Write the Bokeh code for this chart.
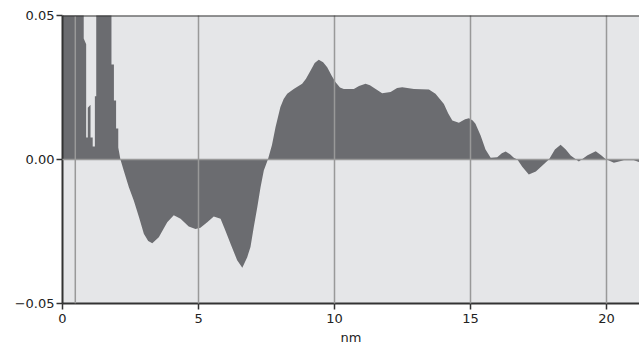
from bokeh.plotting import figure
from bokeh.models import Range1d, FixedTicker, Span, CustomJSTickFormatter
from bokeh.embed import file_html
from bokeh.resources import INLINE

# distance (nm) and signal values
x_nm = [0.00, 0.78, 0.78, 0.87, 0.87, 0.93, 0.93, 1.03, 1.03, 1.11, 1.11, 1.19, 1.19, 1.24, 1.24,
        1.80, 1.80, 1.89, 1.89, 1.97, 1.97, 2.05, 2.05, 2.13,
        2.25, 2.44, 2.62, 2.81, 2.99, 3.15, 3.30, 3.54, 3.85, 4.09, 4.34, 4.64, 4.89, 5.07,
        5.32, 5.56, 5.81, 5.99, 6.18, 6.42, 6.61, 6.79, 6.91, 7.03, 7.16, 7.28, 7.40, 7.55,
        7.70, 7.83, 8.01, 8.13, 8.26, 8.50, 8.81, 8.95, 9.12, 9.27, 9.42, 9.58, 9.73, 9.90,
        10.04, 10.20, 10.34, 10.71, 10.90, 11.14, 11.30, 11.51, 11.75, 12.06, 12.30, 12.49,
        12.92, 13.47, 13.71, 13.87, 14.02, 14.18, 14.33, 14.57, 14.80, 14.94, 15.08, 15.18,
        15.37, 15.55, 15.74, 15.98, 16.15, 16.29, 16.45, 16.59, 16.72, 16.90, 17.14, 17.40,
        17.64, 17.88, 18.10, 18.31, 18.50, 18.68, 18.98, 19.30, 19.60, 19.80, 19.96, 20.27,
        20.64, 21.00, 21.25]
signal = [0.09, 0.09, 0.042, 0.040, 0.0076, 0.0076, 0.018, 0.019, 0.0076, 0.0076, 0.0045, 0.0045, 0.022, 0.022, 0.09,
          0.09, 0.033, 0.033, 0.0205, 0.0205, 0.0108, 0.0108, 0.0042, 0.0,
          -0.0038, -0.0096, -0.0142, -0.0200, -0.0258, -0.0283, -0.0291, -0.0270, -0.0218, -0.0194, -0.0206, -0.0233, -0.0241, -0.0237,
          -0.0218, -0.0198, -0.0206, -0.0247, -0.0293, -0.0350, -0.0376, -0.0339, -0.0304, -0.0235, -0.0166, -0.0096, -0.0038, 0.0,
          0.0050, 0.0112, 0.0182, 0.0210, 0.0228, 0.0245, 0.0263, 0.0280, 0.0309, 0.0335, 0.0346, 0.0338, 0.0320, 0.0290,
          0.0268, 0.0250, 0.0245, 0.0245, 0.0255, 0.0263, 0.0258, 0.0245, 0.0230, 0.0234, 0.0248, 0.0251,
          0.0245, 0.0243, 0.0228, 0.0210, 0.0193, 0.0160, 0.0135, 0.0128, 0.0140, 0.0143, 0.0135, 0.0124,
          0.0083, 0.0035, 0.0006, 0.0008, 0.0022, 0.0028, 0.0018, 0.0006, 0.0, -0.0025, -0.0052, -0.0042,
          -0.0021, 0.0, 0.0035, 0.0051, 0.0035, 0.0014, -0.0007, 0.0015, 0.0029, 0.0015, 0.0002, -0.0011,
          -0.0003, -0.0003, -0.0010]

x_ticks = [0, 5, 10, 15, 20]
y_ticks = [-0.05, 0.0, 0.05]
marker_nm = 0.47

p = figure(width=639, height=350, output_backend="svg", toolbar_location=None,
           x_range=Range1d(0, 21.21), y_range=Range1d(-0.05, 0.05),
           min_border_left=62, min_border_top=15, min_border_right=0, min_border_bottom=47)
p.background_fill_color = "#e5e6e8"
p.border_fill_color = "white"
p.outline_line_color = None

p.varea(x=x_nm, y1=0, y2=signal, fill_color="#6b6c70")

grid_color = "#999999"
p.xgrid.ticker = FixedTicker(ticks=x_ticks)
p.ygrid.ticker = FixedTicker(ticks=y_ticks)
for g in (p.xgrid, p.ygrid):
    g.grid_line_color = grid_color
    g.grid_line_width = 1.5
    g.level = "overlay"

p.add_layout(Span(location=marker_nm, dimension="height", line_color=grid_color, line_width=1.5, level="overlay"))
p.add_layout(Span(location=0.05, dimension="width", line_color="#333333", line_width=2, level="overlay"))

p.xaxis.ticker = FixedTicker(ticks=x_ticks)
p.yaxis.ticker = FixedTicker(ticks=y_ticks)
p.yaxis.formatter = CustomJSTickFormatter(code="return (tick < 0 ? '\u22120.05' : tick.toFixed(2));")
p.xaxis.axis_label = "nm"
for ax in (p.xaxis, p.yaxis):
    ax.axis_line_color = "#333333"
    ax.axis_line_width = 2
    ax.major_tick_line_color = "#333333"
    ax.major_tick_line_width = 1.5
    ax.major_tick_out = 6
    ax.major_tick_in = 0
    ax.minor_tick_line_color = None
    ax.major_label_text_font = "DejaVu Sans"
    ax.major_label_text_font_size = "13px"
    ax.major_label_text_color = "#222222"
p.xaxis.major_label_standoff = 4
p.yaxis.major_label_standoff = 2
p.xaxis.axis_label_text_font = "DejaVu Sans"
p.xaxis.axis_label_text_font_size = "13px"
p.xaxis.axis_label_text_font_style = "normal"
p.xaxis.axis_label_text_color = "#222222"
p.xaxis.axis_label_standoff = 4

open("out.html", "w").write(file_html(p, INLINE))
